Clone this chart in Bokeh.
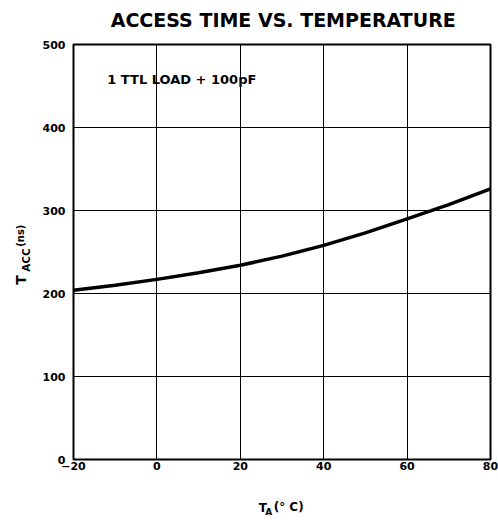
import numpy as np
from bokeh.plotting import figure
from bokeh.models import Range1d, Label, FixedTicker
from bokeh.embed import file_html
from bokeh.resources import INLINE

temps = [-20, -10, 0, 10, 20, 30, 40, 50, 60, 70, 80]
t_acc = [204, 210, 217, 225, 234, 245, 258, 273, 290, 307, 326]
x_ticks = [-20, 0, 20, 40, 60, 80]
y_ticks = [0, 100, 200, 300, 400, 500]
title_text = "ACCESS TIME VS. TEMPERATURE"
note_text = "1 TTL LOAD + 100pF"

FONT = "DejaVu Sans"

p = figure(width=498, height=520, output_backend="svg", toolbar_location=None,
           x_range=Range1d(-20, 80), y_range=Range1d(0, 500),
           min_border_left=71, min_border_right=8, min_border_top=44, min_border_bottom=61)
p.background_fill_color = "white"
p.border_fill_color = "white"
p.outline_line_color = "black"
p.outline_line_width = 2

for ax in (p.xaxis[0], p.yaxis[0]):
    ax.axis_line_color = None
    ax.major_tick_in = 0
    ax.major_tick_out = 0
    ax.minor_tick_in = 0
    ax.minor_tick_out = 0
    ax.major_label_text_font = FONT
    ax.major_label_text_font_style = "bold"
    ax.major_label_text_font_size = "11px"
    ax.major_label_text_color = "black"
p.xaxis[0].ticker = FixedTicker(ticks=x_ticks)
p.yaxis[0].ticker = FixedTicker(ticks=y_ticks)
p.xaxis[0].major_label_standoff = 2
p.yaxis[0].major_label_standoff = 8

p.xgrid[0].ticker = FixedTicker(ticks=x_ticks)
p.ygrid[0].ticker = FixedTicker(ticks=y_ticks)
for g in (p.xgrid[0], p.ygrid[0]):
    g.grid_line_color = "black"
    g.grid_line_width = 1
    g.grid_line_alpha = 1

p.line(temps, t_acc, line_color="black", line_width=3.5)

def lab(x, y, text, size, style="bold", align="left", baseline="middle", angle=0, place="center"):
    l = Label(x=x, y=y, text=text, text_font=FONT, text_font_size=size,
              text_font_style=style, text_align=align, text_baseline=baseline,
              angle=angle, text_color="black")
    if place == "center":
        p.add_layout(l)
    else:
        p.add_layout(l, place)

# title
lab(30.3, 530.1, title_text, "19px", align="center", place="above")
# note
lab(-11.9, 458, note_text, "13px")
# x axis label
lab(24.4, -58.4, "T", "12px", place="below")
lab(26.0, -63.2, "A", "9px", place="below")
lab(28.0, -57.8, "(° C)", "12px", place="below")
# y axis label (rotated)
ang = np.pi / 2
lab(-32.5, 210.6, "T", "14px", angle=ang, place="left")
lab(-31.5, 226.2, "ACC", "10.5px", angle=ang, place="left")
lab(-32.8, 256.3, "(ns)", "10px", angle=ang, place="left")

open("out.html", "w").write(file_html(p, INLINE))
